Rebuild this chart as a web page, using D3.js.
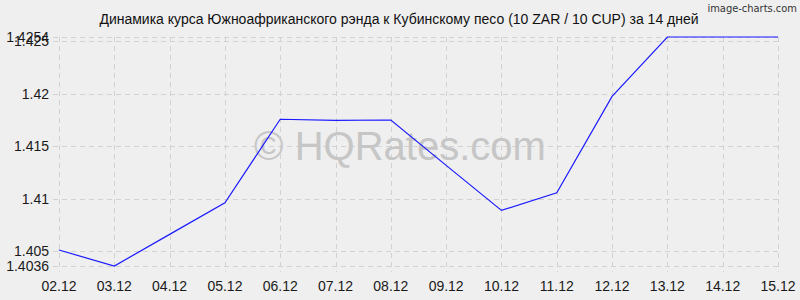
<!DOCTYPE html>
<html lang="ru">
<head>
<meta charset="utf-8">
<title>ZAR / CUP</title>
<script src="https://d3js.org/d3.v7.min.js"></script>
<style>
  body { margin: 0; background: #efefef; }
  .grid line { stroke: #d2d2d2; stroke-dasharray: 5,4; }
  .tick-label { font-family: "Liberation Sans", Arial, sans-serif; font-size: 14px; fill: #1a1a1a; }
</style>
</head>
<body>
<div id="chart"></div>
<script>
// dates and rates (10 ZAR in 10 CUP)
var dates = ["02.12", "03.12", "04.12", "05.12", "06.12", "07.12", "08.12",
             "09.12", "10.12", "11.12", "12.12", "13.12", "14.12", "15.12"];
var rates = [1.40512, 1.4036, 1.40661, 1.40962, 1.41757, 1.41747, 1.4175,
             1.41318, 1.40889, 1.41057, 1.41975, 1.4254, 1.4254, 1.4254];
var yTicks = [1.4036, 1.405, 1.41, 1.415, 1.42, 1.425, 1.4254];
var yMin = 1.4036, yMax = 1.4254;

var w = 800, h = 300;
var plotLeft = 59, plotRight = 778, plotTop = 37, plotBottom = 266;

var svg = d3.select("#chart").append("svg")
  .attr("width", w).attr("height", h);

svg.append("rect").attr("width", w).attr("height", h).attr("fill", "#efefef");

var x = d3.scalePoint().domain(dates).range([plotLeft, plotRight]);
var y = d3.scaleLinear().domain([yMin, yMax]).range([plotBottom, plotTop]);

// grid
var grid = svg.append("g").attr("class", "grid");
grid.selectAll("line.v").data(dates).enter().append("line")
  .attr("class", "v")
  .attr("x1", d => Math.round(x(d)) + 0.5).attr("x2", d => Math.round(x(d)) + 0.5)
  .attr("y1", plotTop).attr("y2", plotBottom + 6);
grid.selectAll("line.h").data(yTicks).enter().append("line")
  .attr("class", "h")
  .attr("x1", plotLeft - 6).attr("x2", plotRight)
  .attr("y1", d => Math.round(y(d)) + 0.5).attr("y2", d => Math.round(y(d)) + 0.5);

// watermark
svg.append("text")
  .attr("x", 400).attr("y", 160)
  .attr("text-anchor", "middle")
  .attr("font-family", "Liberation Sans, Arial, sans-serif")
  .attr("font-size", 40)
  .attr("fill", "#c6c6c6")
  .text("© HQRates.com");

// line
svg.append("path")
  .datum(rates)
  .attr("fill", "none")
  .attr("stroke", "#1a1aff")
  .attr("stroke-width", 1.2)
  .attr("d", d3.line().x((d, i) => x(dates[i])).y(d => y(d)));

// y labels
svg.selectAll("text.ylab").data(yTicks).enter().append("text")
  .attr("class", "tick-label ylab")
  .attr("x", 49)
  .attr("y", d => y(d) + 5)
  .attr("text-anchor", "end")
  .text(d => d);

// x labels
svg.selectAll("text.xlab").data(dates).enter().append("text")
  .attr("class", "tick-label xlab")
  .attr("x", d => x(d))
  .attr("y", 291)
  .attr("text-anchor", "middle")
  .text(d => d);

// title
svg.append("text")
  .attr("x", 399).attr("y", 24)
  .attr("text-anchor", "middle")
  .attr("font-family", "Liberation Sans, Arial, sans-serif")
  .attr("font-size", 14)
  .attr("fill", "#111")
  .text("Динамика курса Южноафриканского рэнда к Кубинскому песо (10 ZAR / 10 CUP) за 14 дней");

svg.append("text")
  .attr("x", 797).attr("y", 12)
  .attr("text-anchor", "end")
  .attr("font-family", "DejaVu Sans Condensed, DejaVu Sans, sans-serif")
  .attr("font-size", 11)
  .attr("fill", "#333")
  .text("image-charts.com");
</script>
</body>
</html>
